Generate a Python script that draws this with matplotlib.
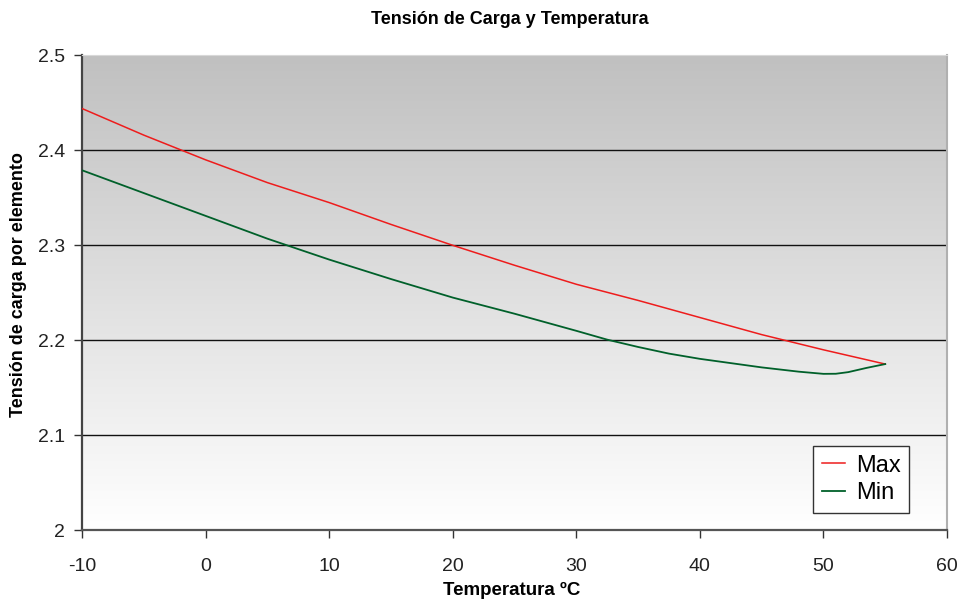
import matplotlib
matplotlib.use("Agg")
import matplotlib.pyplot as plt
import numpy as np

# lecturas de la curva (temperatura en ºC, tensión por elemento en V)
temp_max = [-10, -5, 0, 5, 10, 15, 20, 25, 30, 35, 40, 45, 50, 55]
v_max = [2.444, 2.416, 2.390, 2.366, 2.345, 2.322, 2.300, 2.279,
         2.259, 2.242, 2.224, 2.206, 2.190, 2.175]

temp_min = [-10, -5, 0, 5, 10, 15, 20, 25, 30, 32.5, 35, 37.5, 40, 42.5, 45,
            48, 50, 51, 52, 53.5, 55]
v_min = [2.379, 2.355, 2.331, 2.307, 2.285, 2.2645, 2.245, 2.228,
         2.210, 2.2007, 2.193, 2.186, 2.1805, 2.176, 2.1715,
         2.167, 2.1647, 2.1648, 2.1665, 2.171, 2.175]

xticks = [-10, 0, 10, 20, 30, 40, 50, 60]
yticks = [2.0, 2.1, 2.2, 2.3, 2.4, 2.5]
ytick_labels = ["2", "2.1", "2.2", "2.3", "2.4", "2.5"]

plain = ["Liberation Sans", "DejaVu Sans"]

fig = plt.figure(figsize=(9.64, 6.06), dpi=100)
ax = fig.add_axes([0.0851, 0.1249, 0.8973, 0.7838])

ax.set_xlim(-10, 60)
ax.set_ylim(2.0, 2.5)

# fondo degradado gris -> blanco
grad = np.linspace(0, 1, 256).reshape(-1, 1)
cmap = matplotlib.colors.LinearSegmentedColormap.from_list("g", ["#ffffff", "#c0c0c0"])
ax.imshow(grad, cmap=cmap, aspect="auto", extent=[-10, 60, 2.0, 2.5],
          origin="lower", zorder=0)

for y in yticks[1:-1]:
    ax.axhline(y, color="#111111", lw=1.0, zorder=1)

ax.plot(temp_max, v_max, color="#ee1c1c", lw=1.1, label="Max", zorder=3)
ax.plot(temp_min, v_min, color="#00602a", lw=1.3, label="Min", zorder=3)

ax.set_xticks(xticks)
ax.set_xticklabels([str(t) for t in xticks], family=plain, fontsize=14, color="#222222")
ax.set_yticks(yticks)
ax.set_yticklabels(ytick_labels, family=plain, fontsize=14, color="#222222")
ax.tick_params(axis="both", direction="out", length=6, width=1, color="#333333")
ax.tick_params(axis="x", pad=14)
ax.tick_params(axis="y", pad=6)

ax.spines["left"].set_color("#444444")
ax.spines["left"].set_linewidth(1.6)
ax.spines["bottom"].set_color("#555555")
ax.spines["bottom"].set_linewidth(1.6)
ax.spines["right"].set_color("#b0b0b0")
ax.spines["right"].set_linewidth(1.5)
ax.spines["top"].set_color("#d8d8d8")
ax.spines["top"].set_linewidth(0.8)

fig.text(0.529, 0.967, "Tensión de Carga y Temperatura", family=plain,
         fontweight="bold", fontsize=13, ha="center", va="center")
fig.text(0.531, 0.026, "Temperatura ºC", family=plain, fontweight="bold",
         fontsize=13.5, ha="center", va="center")
fig.text(0.019, 0.53, "Tensión de carga por elemento", family=plain,
         fontweight="bold", fontsize=13, ha="center", va="center", rotation=90)

leg = ax.legend(loc="lower right", bbox_to_anchor=(0.956, 0.037),
                prop={"family": plain, "size": 17}, frameon=True, fancybox=False,
                handlelength=1.0, handletextpad=0.45, borderpad=0.35, labelspacing=0.25,
                borderaxespad=0)
leg.get_frame().set_edgecolor("#333333")
leg.get_frame().set_linewidth(1.0)
leg.get_frame().set_facecolor("white")
leg.get_frame().set_alpha(1.0)

fig.savefig("out.png", dpi=100)
